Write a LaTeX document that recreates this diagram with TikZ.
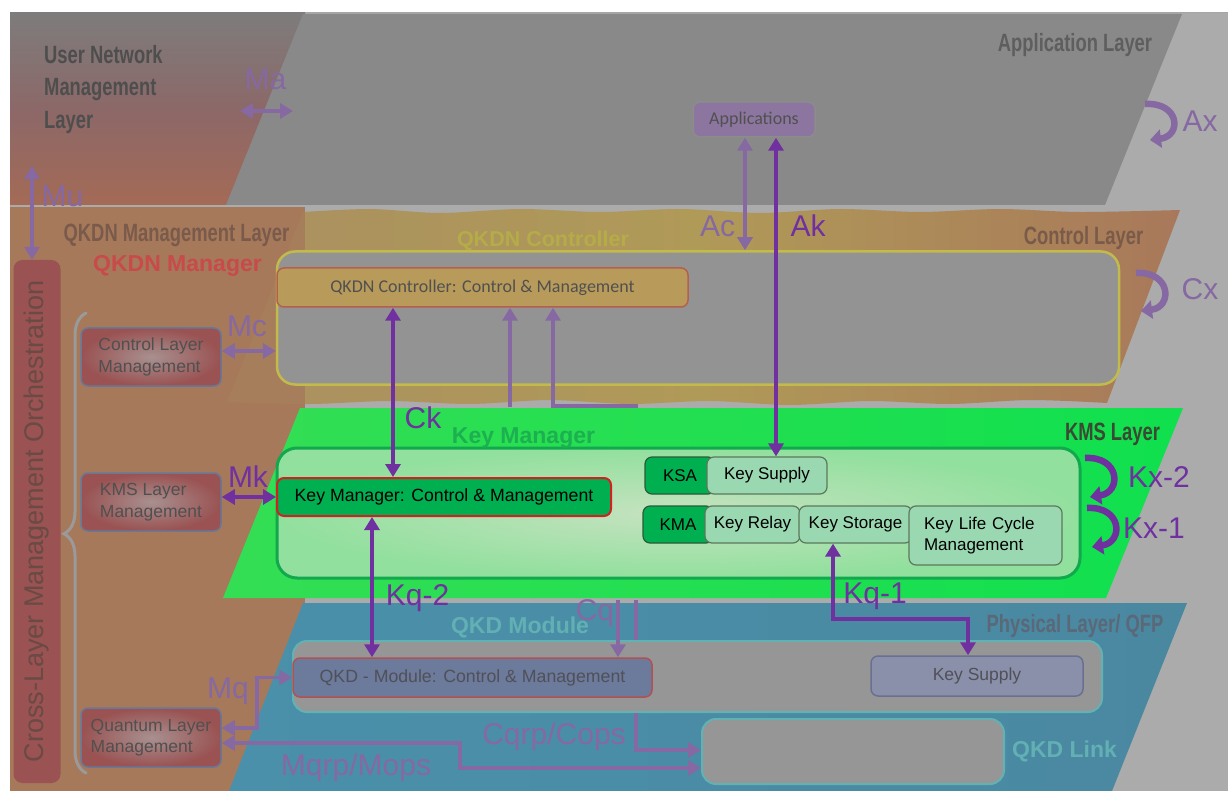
\documentclass[tikz,border=0pt]{standalone}
\usepackage{fontspec}
\setmainfont{Liberation Sans}
\newfontfamily\calib{Carlito}
\newfontfamily\cond[FakeStretch=0.735]{Liberation Sans}
\usepackage{xcolor}
\usepackage{tikz}
\usetikzlibrary{arrows.meta,positioning,calc,decorations.pathreplacing}
\definecolor{bggray}{HTML}{ABABAB}
\definecolor{appgray}{HTML}{898989}
\definecolor{usrtop}{HTML}{7E7C7C}
\definecolor{usrmid}{HTML}{8C6868}
\definecolor{usrbot}{HTML}{A46A56}
\definecolor{panel}{HTML}{A6795B}
\definecolor{ctrlL}{HTML}{AA9060}
\definecolor{ctrlM}{HTML}{B09A58}
\definecolor{ctrlR}{HTML}{A8785A}
\definecolor{ctrlin}{HTML}{939393}
\definecolor{ctrledge}{HTML}{C2BA4A}
\definecolor{qcfill}{HTML}{B89B5A}
\definecolor{redge}{HTML}{B5604E}
\definecolor{kmsL}{HTML}{34DE54}
\definecolor{kmsM}{HTML}{98D052}
\definecolor{kmsR}{HTML}{10E04E}
\definecolor{kmsedge}{HTML}{12A84E}
\definecolor{kinIn}{HTML}{C6E2C0}
\definecolor{kinOut}{HTML}{92E09E}
\definecolor{kgreen}{HTML}{00B050}
\definecolor{kred}{HTML}{D42020}
\definecolor{kdark}{HTML}{2A5A3A}
\definecolor{mintfill}{HTML}{9AD8B2}
\definecolor{mintedge}{HTML}{5A7A5A}
\definecolor{phyL}{HTML}{4A90AA}
\definecolor{phyM}{HTML}{8A9AA8}
\definecolor{phyR}{HTML}{4A88A0}
\definecolor{qgray}{HTML}{969696}
\definecolor{qedge}{HTML}{62B2B4}
\definecolor{qmfill}{HTML}{6C7A9C}
\definecolor{qred}{HTML}{B05252}
\definecolor{qtext}{HTML}{505058}
\definecolor{ksqfill}{HTML}{8A90AA}
\definecolor{ksqedge}{HTML}{6A7090}
\definecolor{mgout}{HTML}{9A5252}
\definecolor{mgin}{HTML}{A89090}
\definecolor{mgedge}{HTML}{6A7898}
\definecolor{lpur}{HTML}{8668A2}
\definecolor{dpur}{HTML}{7030A0}
\definecolor{appfill}{HTML}{8C76A0}
\definecolor{txtgray}{HTML}{505050}
\definecolor{appttl}{HTML}{5E5E5E}
\definecolor{usrttl}{HTML}{4E4E4E}
\definecolor{qmttl}{HTML}{7A5A4A}
\definecolor{ctrlttl}{HTML}{7A5A48}
\definecolor{kmsttl}{HTML}{3A4A32}
\definecolor{phyttl}{HTML}{5A6878}
\definecolor{qmgr}{HTML}{C84A4A}
\definecolor{qctl}{HTML}{B4AC48}
\definecolor{kmgr}{HTML}{1CB050}
\definecolor{qkdm}{HTML}{62B0B4}
\definecolor{orchtxt}{HTML}{6A4A44}
\definecolor{bracecol}{HTML}{9A9A9A}
\newcommand{\fsz}[2]{\fontsize{#1}{#2}\selectfont}

\begin{document}
\begin{tikzpicture}[
  x=1pt, y=-1pt,
  lyr/.style ={font=\cond\bfseries\fsz{25}{32.5}, inner sep=0pt, anchor=base},
  ttl/.style ={font=\bfseries\fsz{23}{27}, inner sep=0pt, anchor=base},
  lbl/.style ={font=\fsz{30}{34}, inner sep=0pt, anchor=base},
  bx/.style  ={draw, line width=1.5pt, rounded corners=7pt, inner sep=0pt, align=center},
  subbx/.style={bx, draw=mintedge, line width=1.2pt, fill=mintfill, minimum height=37pt, font=\fsz{17}{21}},
  agent/.style={bx, draw=kdark, line width=1.2pt, fill=kgreen, minimum width=70pt, minimum height=37pt, font=\fsz{17}{21}},
  mgmt/.style={bx, draw=mgedge, inner color=mgin, outer color=mgout, minimum width=140pt,
               minimum height=58pt, align=left, text=txtgray, font=\fsz{17.5}{21.5}},
  grp/.style ={draw, line width=2.5pt, rounded corners=18pt},
  ar/.style  ={line width=3.8pt, -{Triangle[length=13pt,width=15pt]}},
  dar/.style ={line width=3.8pt, {Triangle[length=13pt,width=15pt]}-{Triangle[length=13pt,width=15pt]}},
  loopar/.style={line width=6.5pt, -{Triangle[length=11pt,width=18pt]}}
]
\useasboundingbox (0,0) rectangle (1228,791);
\fill[white] (0,0) rectangle (1228,791);
\fill[bggray] (10,12) rectangle (1228,791);
\draw[black!35, line width=0.8pt] (10,791) -- (10,12) -- (1228,12);

% ---------- layer bands ----------
\shade[top color=usrtop, bottom color=usrbot, middle color=usrmid] (10,13) rectangle (305,205);
\fill[appgray] (303,14) -- (1182,14) -- (1105,205) -- (226,205) -- cycle;
\fill[panel] (10,207) rectangle (305,791);
\shade[left color=ctrlL, right color=ctrlR, middle color=ctrlM]
  (303,212) -- plot[smooth] coordinates {(303,212) (370,209) (440,213) (520,209) (600,212)
    (680,209) (760,213) (840,209) (920,212) (1000,209) (1080,212) (1180,210)}
  -- (1107,403) -- plot[smooth] coordinates {(1107,403) (1030,400) (950,404) (870,401)
    (790,405) (710,401) (630,404) (550,400) (470,404) (390,401) (310,404) (227,402)} -- cycle;
\fill[panel, opacity=0.78] (10,207) rectangle (305,405);
\shade[left color=kmsL, middle color=kmsM, right color=kmsR]
  (300,408) -- (1183,408) -- (1106,598) -- (223,598) -- cycle;
\shade[left color=phyL, middle color=phyM, right color=phyR]
  (303,603) -- (1187,603) -- (1112,791) -- (229,791) -- cycle;

% ---------- application layer ----------
\node[bx, draw=black!45, fill=appfill, minimum width=122pt, minimum height=35pt,
      font=\calib\fsz{18}{21}, text=txtgray] (apps) at (754,119.5) {Applications};

% ---------- control layer ----------
\node[grp, draw=ctrledge, fill=ctrlin, minimum width=842pt, minimum height=133pt] (ctrlbox) at (698,318) {};
\node[bx, draw=redge, fill=qcfill, minimum width=411pt, minimum height=39pt,
      font=\calib\fsz{18}{21}, text=txtgray] (qkdnc) at (482.5,287.5) {QKDN Controller: Control \& Management};

% ---------- KMS layer ----------
\node[grp, draw=kmsedge, line width=3pt, inner color=kinIn, outer color=kinOut,
      rounded corners=20pt, minimum width=803pt, minimum height=130pt] (kmsbox) at (678.5,513) {};
\node[bx, draw=kred, line width=2pt, fill=kgreen, minimum width=334pt, minimum height=38pt,
      font=\fsz{17.7}{21}] (kmcm) at (444,497) {Key Manager: Control \& Management};
\node[agent] (ksa) at (680,475.5) {KSA};
\node[subbx, minimum width=120pt] (ksup) at (767,475.5) {Key Supply};
\node[agent] (kma) at (678,524.5) {KMA};
\node[subbx, minimum width=95pt] (krelay) at (752.5,524.5) {Key Relay};
\node[subbx, minimum width=113pt] (kstor) at (855.5,524.5) {Key Storage};
\node[subbx, minimum width=153pt, minimum height=59pt, text width=123pt, align=left,
      font=\fsz{17}{21}] (klife) at (985.5,535.5) {Key Life Cycle\\Management};

% ---------- physical layer ----------
\node[grp, draw=qedge, line width=2pt, fill=qgray, rounded corners=14pt,
      minimum width=809pt, minimum height=71pt] (qmbox) at (697.5,676.5) {};
\node[bx, draw=qred, fill=qmfill, minimum width=359pt, minimum height=39pt,
      font=\fsz{17.7}{21}, text=qtext] (qmcm) at (472.5,677.5) {QKD - Module: Control \& Management};
\node[bx, draw=ksqedge, fill=ksqfill, minimum width=212pt, minimum height=40pt,
      font=\fsz{17.5}{21}, text=qtext] (ksupq) at (977,676) {Key Supply};
\node[grp, draw=qedge, line width=2pt, fill=qgray, rounded corners=14pt,
      minimum width=302pt, minimum height=65pt] (linkbox) at (853,751.5) {};

% ---------- management side ----------
\node[mgmt] (ctlmg) at (151,357) {Control Layer\\Management};
\node[mgmt] (kmsmg) at (151,502) {KMS Layer\\Management};
\node[mgmt, minimum height=59pt] (qlmg) at (151,737.5) {Quantum Layer\\Management};
\node[fill=mgout, rounded corners=9pt, rotate=90, minimum width=523pt, minimum height=47pt,
      inner sep=0pt, font=\fsz{27}{30}, text=orchtxt] (orch) at (37,521.5) {Cross-Layer Management Orchestration};
\draw[bracecol, line width=3pt, line cap=round, decorate, decoration={brace, amplitude=22pt, aspect=0.52}]
  (86,773) -- (86,313);

% ---------- titles ----------
\node[font=\cond\bfseries\fsz{25}{32.5}, text=usrttl, align=left, anchor=north west, inner sep=0pt]
  (tUsr) at (44,45) {User Network\\Management\\Layer};
\node[lyr, text=appttl] (tApp) at (1075,52) {Application Layer};
\node[lyr, text=qmttl] (tQmL) at (176.5,242) {QKDN Management Layer};
\node[ttl, text=qmgr] (tQmgr) at (177.5,272) {QKDN Manager};
\node[ttl, text=qctl, font=\bfseries\fsz{21.5}{25}] (tQctl) at (543,247) {QKDN Controller};
\node[lyr, text=ctrlttl] (tCtl) at (1083.5,245) {Control Layer};
\node[ttl, text=kmgr] (tKmgr) at (523.5,443) {Key Manager};
\node[lyr, text=kmsttl] (tKms) at (1112.5,440) {KMS Layer};
\node[ttl, text=qkdm] (tQkdm) at (520,633) {QKD Module};
\node[lyr, text=phyttl] (tPhy) at (1075,632) {Physical Layer/ QFP};
\node[ttl, text=qkdm] (tLink) at (1064.5,757) {QKD Link};

% ---------- reference point labels ----------
\node[lbl, text=lpur] (lMa) at (265.5,90) {Ma};
\node[lbl, text=lpur] (lMu) at (62.5,207) {Mu};
\node[lbl, text=lpur] (lMc) at (247,337) {Mc};
\node[lbl, text=dpur] (lMk) at (248,487) {Mk};
\node[lbl, text=lpur] (lMq) at (228,698) {Mq};
\node[lbl, text=lpur] (lMqrp) at (356,775) {Mqrp/Mops};
\node[lbl, text=lpur] (lCqrp) at (554,744) {Cqrp/Cops};
\node[lbl, text=lpur] (lCq) at (595,620) {Cq};
\node[lbl, text=lpur] (lAc) at (717.5,237) {Ac};
\node[lbl, text=dpur] (lAk) at (808,237) {Ak};
\node[lbl, text=dpur] (lCk) at (423,428) {Ck};
\node[lbl, text=dpur] (lKq2) at (417.5,605) {Kq-2};
\node[lbl, text=dpur] (lKq1) at (875,603) {Kq-1};
\node[lbl, text=dpur] (lKx2) at (1159,487) {Kx-2};
\node[lbl, text=dpur] (lKx1) at (1154,538) {Kx-1};
\node[lbl, text=lpur] (lAx) at (1200,132) {Ax};
\node[lbl, text=lpur] (lCx) at (1200,300) {Cx};

% ---------- connectors ----------
\coordinate (maL) at (240,111);
\coordinate (maR) at (293,111);
\coordinate (muT) at (32,166);
\coordinate (acx) at (745,0);
\coordinate (akx) at (776,0);
\coordinate (mcy) at (0,351);
\coordinate (mky) at (0,497);
\coordinate (ckx) at (393,0);
\coordinate (upA) at (510,407);
\coordinate (upB) at (638,406);
\coordinate (upBx) at (553,0);
\coordinate (kq2x) at (372,0);
\coordinate (kq1x) at (833,0);
\coordinate (kq1y) at (0,619);
\coordinate (kq1e) at (968,0);
\coordinate (cqA) at (618,600);
\coordinate (cqB) at (636,600);
\coordinate (cqry) at (0,750);
\coordinate (mqry) at (0,743);
\coordinate (mqrx) at (460,0);
\coordinate (mqry2) at (0,768);
\coordinate (mqx) at (257,0);
\coordinate (mqy) at (0,728);

\draw[dar, lpur] (maL) -- (maR);
\draw[dar, lpur] (muT) -- (muT |- orch.east);
\draw[dar, lpur] (acx |- apps.south) -- (acx |- ctrlbox.north);
\draw[dar, dpur] (akx |- apps.south) -- (akx |- ksup.north);
\draw[dar, lpur] (ctlmg.east |- mcy) -- (ctrlbox.west |- mcy);
\draw[dar, dpur] (kmsmg.east |- mky) -- (kmcm.west |- mky);
\draw[dar, dpur] (ckx |- qkdnc.south) -- (ckx |- kmcm.north);
\draw[ar, lpur] (upA) -- (upA |- qkdnc.south);
\draw[ar, lpur] (upB) -| (upBx |- qkdnc.south);
\draw[dar, dpur] (kq2x |- kmcm.south) -- (kq2x |- qmcm.north);
\draw[dar, dpur] (kq1x |- kstor.south) -- (kq1x |- kq1y) -| (kq1e |- ksupq.north);
\draw[ar, lpur] (cqA) -- (cqA |- qmcm.north);
\draw[lpur, line width=3.8pt] (cqB) -- (cqB |- qmbox.north);
\draw[ar, lpur] (cqB |- qmbox.south) |- (linkbox.west |- cqry);
\draw[dar, lpur] (qlmg.east |- mqry) -| (mqrx |- mqry2) -- (linkbox.west |- mqry2);
\draw[dar, lpur] (qlmg.east |- mqy) -| (mqx |- qmcm.west) -- (qmcm.west);

% ---------- same-layer loops ----------
\draw[loopar, lpur] (1145,104) .. controls (1180,102) and (1182,136) .. (1150,140);
\draw[loopar, lpur] (1136,273) .. controls (1171,271) and (1173,307) .. (1141,311);
\draw[loopar, dpur] (1085,458) .. controls (1120,456) and (1122,492) .. (1090,497);
\draw[loopar, dpur] (1087,508) .. controls (1122,506) and (1124,542) .. (1092,547);
\end{tikzpicture}
\end{document}
